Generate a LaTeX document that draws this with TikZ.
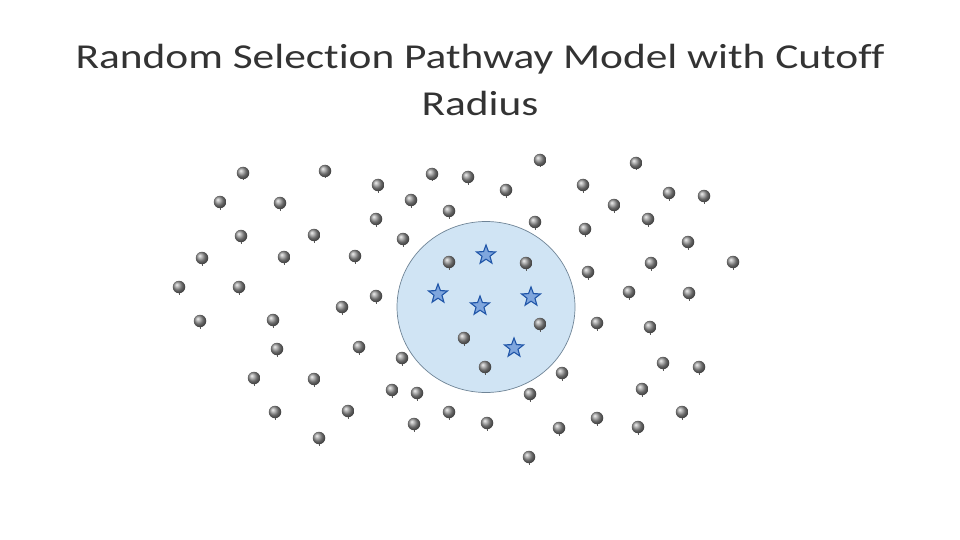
\documentclass[tikz,border=0pt]{standalone}
\usepackage{fontspec}
\setmainfont{Carlito}[FakeStretch=1.24,Ligatures=NoCommon]
\usetikzlibrary{shapes.geometric}
\definecolor{zonefill}{HTML}{D0E4F4}
\definecolor{zoneline}{HTML}{6F8496}
\definecolor{starline}{HTML}{1F55A8}
\definecolor{starfill}{HTML}{7FA6DD}
\tikzset{
  ballnode/.style={circle, minimum size=12.5pt, inner sep=0pt, shading=ball, ball color=black!42},
  starnode/.style={star, star points=5, star point ratio=2.4, minimum size=20pt, inner sep=0pt,
     draw=starline, line width=1.1pt, fill=starfill},
  zone/.style={ellipse, minimum width=178pt, minimum height=171pt, inner sep=0pt,
     fill=zonefill, draw=zoneline, line width=0.7pt},
  titletext/.style={font=\fontsize{35}{47}\selectfont, color=black!80, align=center}
}
\begin{document}
\begin{tikzpicture}[x=1pt,y=-1pt]
\useasboundingbox (0,0) rectangle (960,540);
\node[titletext] (title) at (480,80) {Random Selection Pathway Model with Cutoff\\Radius};
\node[zone] (cutoff) at (486,307) {};
\foreach \px/\py [count=\i] in {
243/173,325/171,540/160,636/163,
378/185,432/174,468/177,506/190,583/185,669/193,704/196,
220/202,280/203,411/200,449/211,614/205,
376/219,535/222,648/219,585/229,
241/236,314/235,403/239,688/242,
202/258,284/257,355/256,449/262,526/263,651/263,733/262,
588/272,
179/287,239/287,376/296,629/292,689/293,
342/307,
200/321,273/320,540/324,597/323,650/327,
464/338,
277/349,359/347,402/358,663/363,699/367,
485/367,562/373,
254/378,314/379,392/390,417/393,530/394,642/389,
275/412,348/411,449/412,682/412,597/418,638/427,559/428,
414/424,487/423,
319/438,
529/457}{
  \draw[black!65, line width=0.9pt] (\px,\py+4) -- (\px,\py+7.5);
  \node[ballnode] (b\i) at (\px,\py) {};
}
\foreach \px/\py [count=\i] in {486/255,438/294,480/306,531/297,514/348}{
  \node[starnode] (st\i) at (\px,\py) {};
}
\end{tikzpicture}
\end{document}
